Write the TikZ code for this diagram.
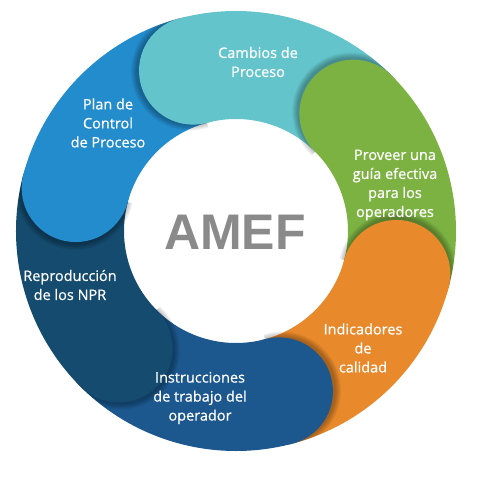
\documentclass[tikz,border=0pt]{standalone}
\usepackage{fontspec}
\setmainfont{Open Sans}
\newfontfamily\labelfont{Open Sans}[FakeBold=0.6]
\newfontfamily\titlefont{Liberation Sans}
\usetikzlibrary{positioning}
\definecolor{cyanseg}{RGB}{99,197,203}
\definecolor{greenseg}{RGB}{124,178,66}
\definecolor{orangeseg}{RGB}{232,137,43}
\definecolor{instseg}{RGB}{28,88,142}
\definecolor{reproseg}{RGB}{20,75,110}
\definecolor{planseg}{RGB}{35,140,205}
\definecolor{amefgray}{RGB}{138,138,138}
\tikzstyle{seglabel} = [text=white, align=center, font=\labelfont\fontsize{14.5}{19}\selectfont]
\tikzstyle{hubtext}  = [text=amefgray, font=\titlefont\bfseries\fontsize{50}{50}\selectfont]

\begin{document}
\begin{tikzpicture}[x=1pt,y=1pt]

\useasboundingbox (-236,-249) rectangle (244,231);

% ring sectors
\foreach \b/\col in {105/cyanseg, 45/greenseg, -15/orangeseg, -75/instseg, -135/reproseg, 165/planseg}
  \fill[\col] (\b:220) arc[start angle=\b, end angle={\b-60}, radius=220]
    -- ({\b-60}:112) arc[start angle={\b-60}, end angle=\b, radius=112] -- cycle;

% round heads with shadow
\foreach \b/\col in {105/cyanseg, 45/greenseg, -15/orangeseg, -75/instseg, -135/reproseg, 165/planseg}{
  \begin{scope}
    \clip (0,0) -- (\b:300) -- ({\b+60}:300) -- cycle;
    \clip (0,0) circle (220);
    \foreach \k in {1,...,6}
      \fill[black, opacity=0.05, shift={({\b+90}:3)}] (\b:166) circle ({53+\k});
  \end{scope}
  \fill[\col] (\b:166) circle (54);
}

\node[seglabel] (cambios)  at (22,169)   {Cambios de\\Proceso};
\node[seglabel] (proveer)  at (159,46)   {Proveer una\\guía efectiva\\para los\\operadores};
\node[seglabel] (indic)    at (127,-117) {Indicadores\\de\\calidad};
\node[seglabel] (instr)    at (-36,-167) {Instrucciones\\de trabajo del\\operador};
\node[seglabel] (repro)    at (-166,-54) {Reproducción\\de los NPR};
\node[seglabel] (plan)     at (-128,108) {Plan de\\Control\\de Proceso};

\node[hubtext] (amef) at (-1,-1) {AMEF};

\end{tikzpicture}
\end{document}
